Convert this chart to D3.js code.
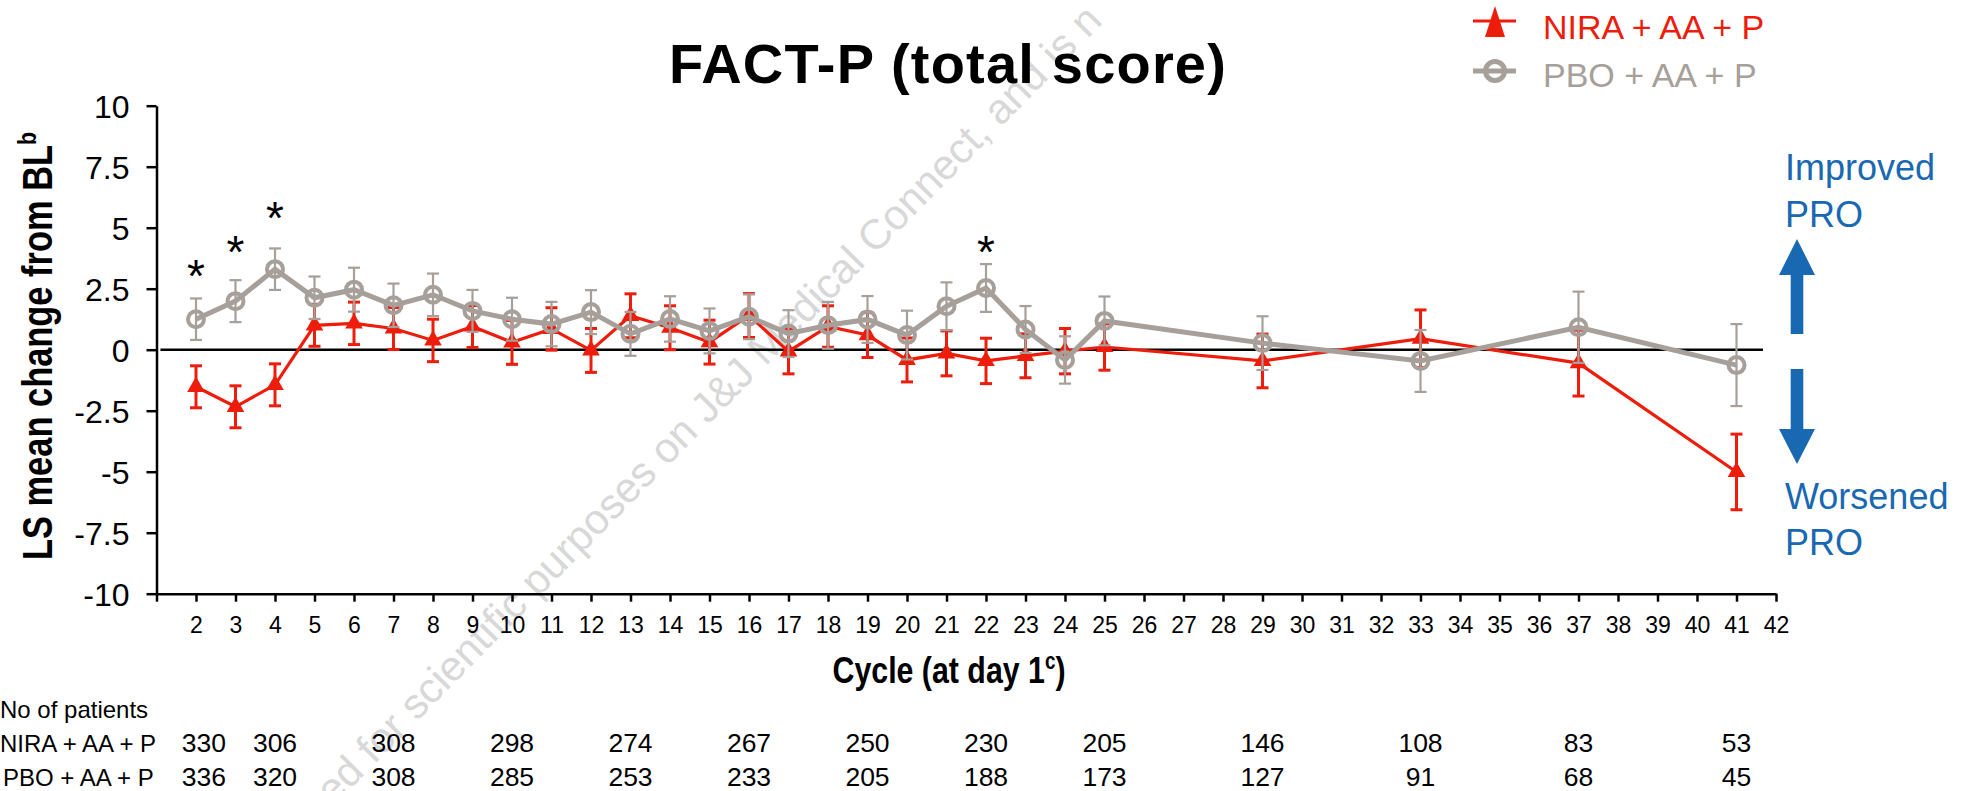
<!DOCTYPE html>
<html>
<head>
<meta charset="utf-8">
<script src="https://cdn.jsdelivr.net/npm/d3@7"></script>
<style>
  body { margin: 0; background: white; }
  text { font-family: "Liberation Sans", Arial, sans-serif; }
</style>
</head>
<body>
<script>
// Data
let cycles   = [2,3,4,5,6,7,8,9,10,11,12,13,14,15,16,17,18,19,20,21,22,23,24,25,29,33,37,41];
let niraMean = [-1.52,-2.34,-1.44,1.0,1.08,0.87,0.38,0.95,0.3,0.85,-0.03,1.39,0.9,0.31,1.4,-0.07,0.95,0.6,-0.42,-0.15,-0.46,-0.25,-0.06,0.11,-0.46,0.45,-0.55,-5.01];
let niraSE   = [0.86,0.86,0.86,0.86,0.87,0.86,0.87,0.86,0.9,0.87,0.9,0.9,0.9,0.9,0.9,0.92,0.85,0.92,0.9,0.92,0.93,0.9,0.93,0.95,1.1,1.18,1.35,1.55];
let pboMean  = [1.25,1.99,3.3,2.13,2.46,1.82,2.25,1.59,1.25,1.05,1.54,0.65,1.26,0.77,1.35,0.66,1.0,1.24,0.6,1.78,2.53,0.83,-0.42,1.18,0.27,-0.46,0.92,-0.63];
let pboSE    = [0.85,0.86,0.85,0.87,0.9,0.89,0.87,0.86,0.88,0.91,0.9,0.9,0.93,0.92,0.92,0.96,0.96,0.96,1.0,0.98,0.98,0.96,0.97,1.0,1.1,1.27,1.46,1.68];

let starCycles = [2,3,4,22];
let starLevels = [3.39,4.37,5.77,4.37];

let yTicks = [-10,-7.5,-5,-2.5,0,2.5,5,7.5,10];
let xTicks = d3.range(1,43);

let countCycles = [2.2,4,7,10,13,16,19,22,25,29,33,37,41];
let niraN = [330,306,308,298,274,267,250,230,205,146,108,83,53];
let pboN  = [336,320,308,285,253,233,205,188,173,127,91,68,45];

let seriesNames = ['NIRA + AA + P','PBO + AA + P'];

let red = '#ee1d0b', grey = '#a69f9a', blue = '#1868b2';

let width = 1964, height = 791;

let svg = d3.select('body')
            .append('svg')
            .attr('width', width)
            .attr('height', height)
            .style('background', 'white')

// Scales
let xScale = d3.scaleLinear().domain([1,42]).range([156.5,1776])
let yScale = d3.scaleLinear().domain([-10,10]).range([593.7,105.7])

// watermark
svg.append('text')
  .attr('transform', 'translate(325,815) rotate(-45.5)')
  .text('ted for scientific purposes on J&J Medical Connect, and is n')
  .style('font-size', '42px')
  .style('fill', '#d8d8d8')

// Axes
let yAxis = svg.append('g')
  .attr('transform', `translate(${xScale(1)},0)`)
  .call(d3.axisLeft(yScale).tickValues(yTicks).tickSize(10).tickSizeOuter(0).tickPadding(17)
        .tickFormat(d => String(d)))
yAxis.selectAll('text').style('font-size','32px').attr('dy','0.36em').style('fill','#000')
yAxis.selectAll('line,path').attr('stroke','#000').attr('stroke-width',2.5)

let xAxis = svg.append('g')
  .attr('transform', `translate(0,${yScale(-10)})`)
  .call(d3.axisBottom(xScale).tickValues(xTicks).tickSize(8).tickSizeOuter(0).tickPadding(15)
        .tickFormat(d => d === 1 ? '' : d))
xAxis.selectAll('text').style('font-size','23px').style('fill','#000')
xAxis.selectAll('line,path').attr('stroke','#000').attr('stroke-width',2.5)

// zero line
svg.append('line')
  .attr('x1', xScale(1.1)).attr('x2', xScale(41.67))
  .attr('y1', yScale(0)).attr('y2', yScale(0))
  .attr('stroke', '#000').attr('stroke-width', 2.5)

// Error bars
function errorBars(means, ses, color, sw) {
  let g = svg.append('g').attr('stroke', color).attr('stroke-width', sw)
  cycles.forEach((c, i) => {
    let x = xScale(c), y1 = yScale(means[i] + ses[i]), y2 = yScale(means[i] - ses[i])
    g.append('line').attr('x1', x).attr('x2', x).attr('y1', y1).attr('y2', y2)
    g.append('line').attr('x1', x-6).attr('x2', x+6).attr('y1', y1).attr('y2', y1)
    g.append('line').attr('x1', x-6).attr('x2', x+6).attr('y1', y2).attr('y2', y2)
  })
}

let line = d3.line().x(d => xScale(d[0])).y(d => yScale(d[1]))

// NIRA series
errorBars(niraMean, niraSE, red, 3)
svg.append('path')
  .attr('d', line(cycles.map((c, i) => [c, niraMean[i]])))
  .attr('fill', 'none').attr('stroke', red).attr('stroke-width', 3.2)
svg.selectAll('.tri')
  .data(cycles)
  .enter()
  .append('path')
  .attr('transform', (c, i) => `translate(${xScale(c)},${yScale(niraMean[i])})`)
  .attr('d', d3.symbol(d3.symbolTriangle).size(135))
  .attr('fill', red)

// PBO series
errorBars(pboMean, pboSE, grey, 2.2)
svg.append('path')
  .attr('d', line(cycles.map((c, i) => [c, pboMean[i]])))
  .attr('fill', 'none').attr('stroke', grey).attr('stroke-width', 5)
svg.selectAll('.circ')
  .data(cycles)
  .enter()
  .append('circle')
  .attr('cx', c => xScale(c))
  .attr('cy', (c, i) => yScale(pboMean[i]))
  .attr('r', 8)
  .attr('fill', 'none').attr('stroke', grey).attr('stroke-width', 4)

// significance stars
svg.selectAll('.star')
  .data(starCycles)
  .enter()
  .append('text')
  .attr('x', c => xScale(c))
  .attr('y', (c, i) => yScale(starLevels[i]) + 25)
  .attr('text-anchor', 'middle')
  .text('*')
  .style('font-size', '46px')

// Title
svg.append('text')
  .attr('x', 948).attr('y', 83)
  .attr('text-anchor', 'middle')
  .text('FACT-P (total score)')
  .style('font-size', '56px').style('font-weight', 'bold').style('letter-spacing', '1.2px')

// Axis titles (condensed bold)
let yt = svg.append('text')
  .attr('transform', 'translate(52,346) rotate(-90) scale(0.82,1)')
  .attr('text-anchor', 'middle')
  .style('font-size', '42px').style('font-weight', 'bold')
yt.append('tspan').text('LS mean change from BL')
yt.append('tspan').text('b').style('font-size', '26px').attr('dy', '-16')

let xt = svg.append('text')
  .attr('transform', 'translate(949,683) scale(0.82,1)')
  .attr('text-anchor', 'middle')
  .style('font-size', '37px').style('font-weight', 'bold')
xt.append('tspan').text('Cycle (at day 1')
xt.append('tspan').text('c').style('font-size', '23px').attr('dy', '-14')
xt.append('tspan').text(')').attr('dy', '14')

// Legend
let lg = svg.append('g')
lg.append('line').attr('x1', 1473).attr('x2', 1516).attr('y1', 21).attr('y2', 21)
  .attr('stroke', red).attr('stroke-width', 3)
lg.append('path').attr('d', 'M1495,6 L1505,37 L1485,37 Z').attr('fill', red)
lg.append('text').attr('x', 1543).attr('y', 39).text(seriesNames[0])
  .style('font-size', '34px').style('fill', red)
lg.append('line').attr('x1', 1473).attr('x2', 1516).attr('y1', 71).attr('y2', 71)
  .attr('stroke', grey).attr('stroke-width', 5)
lg.append('circle').attr('cx', 1495).attr('cy', 71).attr('r', 9.5)
  .attr('fill', 'none').attr('stroke', grey).attr('stroke-width', 5)
lg.append('text').attr('x', 1543).attr('y', 87).text(seriesNames[1])
  .style('font-size', '34px').style('fill', grey)

// Improved / Worsened arrows
svg.append('path')
  .attr('d', 'M1797,239 L1815,275 L1803.3,275 L1803.3,334 L1790.7,334 L1790.7,275 L1779,275 Z')
  .attr('fill', blue)
svg.append('path')
  .attr('d', 'M1797,464 L1815,429 L1803.3,429 L1803.3,369 L1790.7,369 L1790.7,429 L1779,429 Z')
  .attr('fill', blue)
let pro = [['Improved',180],['PRO',227],['Worsened',509],['PRO',555]]
svg.selectAll('.pro')
  .data(pro)
  .enter()
  .append('text')
  .attr('x', 1785)
  .attr('y', d => d[1])
  .text(d => d[0])
  .style('font-size', '36px').style('fill', blue)

// Patients at risk table
svg.append('text').attr('x', 0).attr('y', 718).text('No of patients').style('font-size', '24px')
svg.append('text').attr('x', 0).attr('y', 752).text(seriesNames[0]).style('font-size', '24px')
svg.append('text').attr('x', 3).attr('y', 786).text(seriesNames[1]).style('font-size', '24px')

svg.selectAll('.nira-n')
  .data(niraN)
  .enter()
  .append('text')
  .attr('x', (d, i) => xScale(countCycles[i]))
  .attr('y', 752)
  .attr('text-anchor', 'middle')
  .text(d => d)
  .style('font-size', '26.5px')

svg.selectAll('.pbo-n')
  .data(pboN)
  .enter()
  .append('text')
  .attr('x', (d, i) => xScale(countCycles[i]))
  .attr('y', 786)
  .attr('text-anchor', 'middle')
  .text(d => d)
  .style('font-size', '26.5px')
</script>
</body>
</html>
